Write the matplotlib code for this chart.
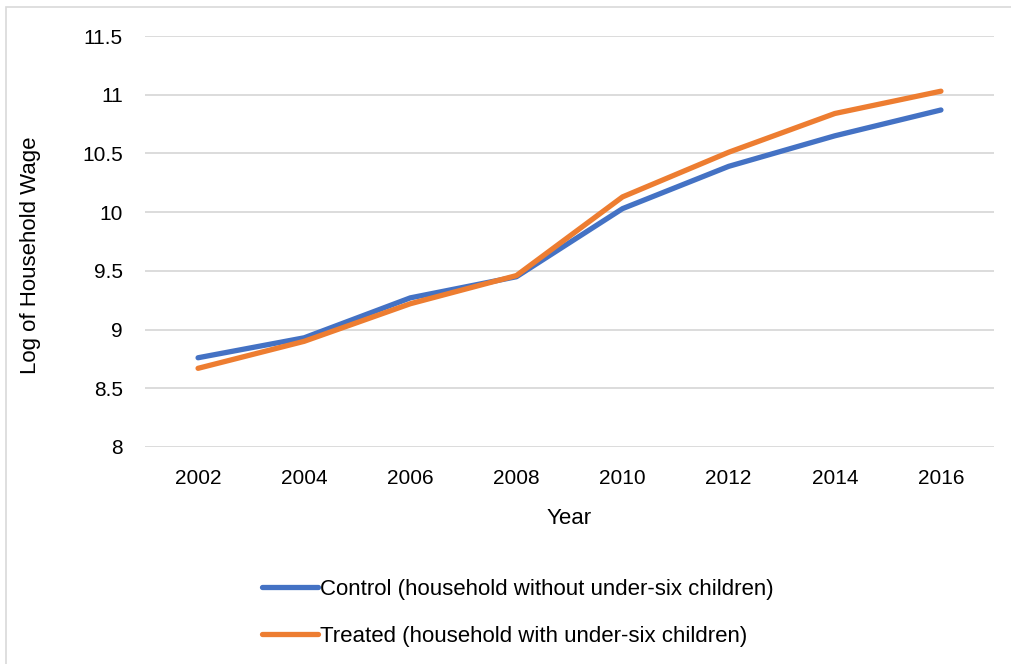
import matplotlib
matplotlib.use("Agg")
import matplotlib.pyplot as plt
from matplotlib.patches import Rectangle

years = ["2002", "2004", "2006", "2008", "2010", "2012", "2014", "2016"]
control = [8.76, 8.93, 9.27, 9.45, 10.03, 10.39, 10.65, 10.87]
treated = [8.67, 8.90, 9.22, 9.46, 10.13, 10.51, 10.84, 11.03]
yticks = [8, 8.5, 9, 9.5, 10, 10.5, 11, 11.5]
ytick_labels = ["8", "8.5", "9", "9.5", "10", "10.5", "11", "11.5"]

plt.rcParams['font.family'] = ['Liberation Sans', 'DejaVu Sans']

W, H = 1011, 664
fig = plt.figure(figsize=(W / 100, H / 100), dpi=100)
ax = fig.add_axes([145 / W, 1 - 447 / H, (994 - 145) / W, (447 - 36) / H])

x = list(range(len(years)))
ax.plot(x, control, color='#4472C4', lw=3.8, solid_capstyle='round',
        label='Control (household without under-six children)', zorder=3)
ax.plot(x, treated, color='#ED7D31', lw=3.8, solid_capstyle='round',
        label='Treated (household with under-six children)', zorder=3)

ax.set_xlim(-0.5, len(years) - 0.5)
ax.set_ylim(8, 11.5)
ax.set_xticks(x)
ax.set_xticklabels(years)
ax.set_yticks(yticks)
ax.set_yticklabels(ytick_labels)
ax.tick_params(axis='both', length=0, labelsize=15, colors='#000000')
ax.tick_params(axis='y', pad=16)
ax.tick_params(axis='x', pad=16)
ax.grid(axis='y', color='#D9D9D9', lw=1.3)
ax.set_axisbelow(True)
for s in ax.spines.values():
    s.set_visible(False)

ax.set_xlabel('Year', fontsize=16, labelpad=14)
ax.set_ylabel('Log of Household Wage', fontsize=16)
ax.yaxis.set_label_coords(-0.122, 0.467)  # sits a bit low, like the original

leg = fig.legend(loc='upper left', bbox_to_anchor=(262 / W, 1 - 579 / H),
                 frameon=False, fontsize=16, handlelength=2.5, handletextpad=0.1,
                 labelspacing=1.15, borderpad=0, borderaxespad=0)
for line in leg.get_lines():
    line.set_linewidth(3.8)

# chart area border
fig.patches.append(Rectangle((6 / W, -0.1), 1.2, 1.1 - 7 / H, transform=fig.transFigure,
                             fill=False, edgecolor='#D9D9D9', lw=1.2))

fig.savefig('out.png', dpi=100)
